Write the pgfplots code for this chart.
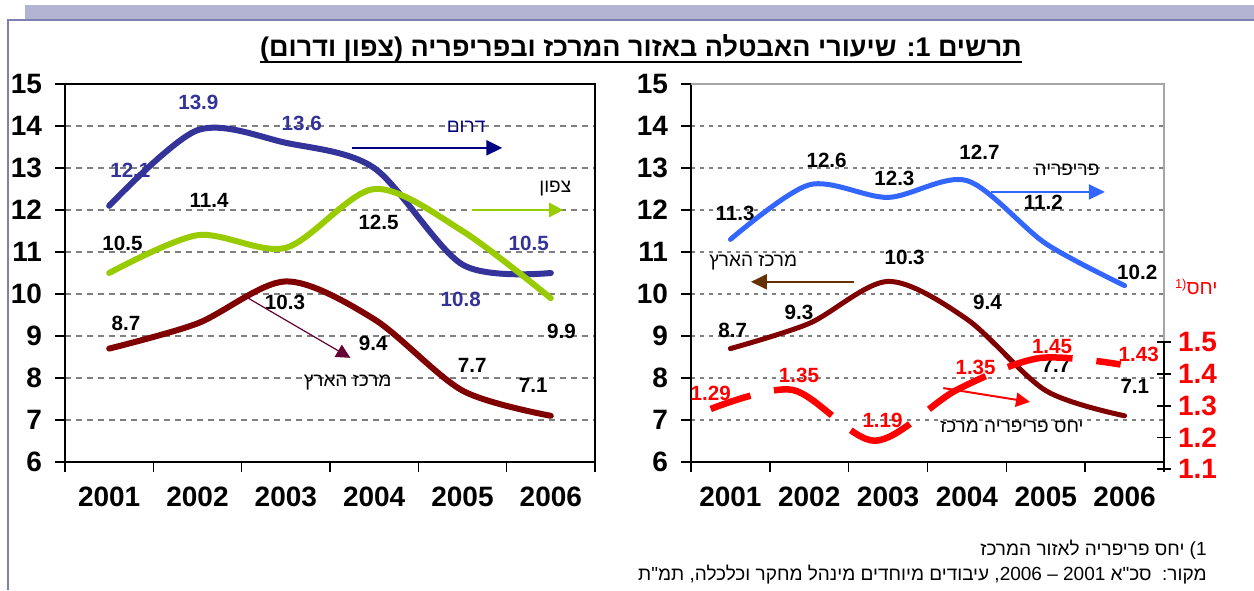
\documentclass[border=0pt]{standalone}
\usepackage{fontspec}
\setmainfont{Liberation Sans}
\newfontfamily\heb[Script=Hebrew]{Liberation Sans}
\TeXXeTstate=1
\usepackage{pgfplots}
\usepackage{pgfplotstable}
\pgfplotsset{compat=1.18}
\usetikzlibrary{arrows.meta}
\definecolor{south}{HTML}{333399}
\definecolor{north}{HTML}{99CC00}
\definecolor{center}{HTML}{800000}
\definecolor{peri}{HTML}{3366FF}
\definecolor{ratio}{HTML}{FF0000}
\definecolor{navyarr}{HTML}{000080}
\definecolor{purparr}{HTML}{660033}
\definecolor{brownarr}{HTML}{663300}
\definecolor{barcol}{HTML}{B3B3D3}
\definecolor{framecol}{HTML}{7F7FB2}
\definecolor{gridcol}{HTML}{808080}

\pgfplotstableread{
x south north center peri
1 12.1 10.5 8.7 11.3
2 13.9 11.4 9.3 12.6
3 13.6 11.1 10.3 12.3
4 13.0 12.5 9.4 12.7
5 10.7 11.5 7.7 11.2
6 10.5 9.9 7.1 10.2
}\regions
\pgfplotstableread{
x ratio
0.75 1.29
1.79 1.35
2.83 1.19
3.87 1.35
4.91 1.45
5.95 1.43
}\ratiotab

\newcommand{\lbl}{\bfseries\fontsize{10.3}{12}\selectfont}
\newcommand{\hlbl}{\heb\fontsize{9.5}{11}\selectfont}

\pgfplotsset{
  panel/.style={
    scale only axis, height=189pt,
    xmin=0.5, xmax=6.5, ymin=6, ymax=15,
    clip=false,
    /pgf/number format/assume math mode=true,
    xtick={0.5,1.5,...,6.5}, xticklabels={},
    extra x ticks={1,2,3,4,5,6},
    extra x tick labels={2001,2002,2003,2004,2005,2006},
    extra x tick style={major tick length=0pt, grid=none},
    ytick={6,...,15},
    tick align=outside, tick pos=left,
    major tick length=5pt,
    tick style={black, line width=0.8pt},
    ymajorgrids,
    ticklabel style={font=\bfseries\fontsize{14}{16}\selectfont},
    xticklabel style={yshift=-9pt},
    yticklabel style={xshift=-3pt},
  },
}

\begin{document}
\begin{tikzpicture}[x=1pt,y=1pt]
\useasboundingbox (0,0) rectangle (627,295);
\fill[white] (0,0) rectangle (627,295);
\fill[barcol] (12.5,292.5) rectangle (627,285.5);
\draw[framecol, line width=1pt] (4,0) -- (4,285) -- (627,285);

\node[anchor=base, inner sep=0] (T) at (320.5,266.5)
  {\heb\bfseries\fontsize{13.5}{15}\selectfont\beginR תרשים 1: שיעורי האבטלה באזור המרכז ובפריפריה (צפון ודרום)\endR};
\draw[line width=1pt] ([yshift=-2.4pt]T.base west) -- ([yshift=-2.4pt]T.base east);

\node[anchor=base east, inner sep=0] at (603.5,17.5)
  {\heb\fontsize{9.5}{11}\selectfont\beginR 1) יחס פריפריה לאזור המרכז\endR};
\node[anchor=base east, inner sep=0] at (603.5,5)
  {\heb\fontsize{9.5}{11}\selectfont\beginR מקור:\ \ סכ"א 2001 – 2006, עיבודים מיוחדים מינהל מחקר וכלכלה, תמ"ת\endR};

% ---------------- left panel
\begin{axis}[panel, width=265pt, at={(32.5pt,64pt)}, anchor=south west,
  axis line style={black, line width=0.8pt},
  major grid style={gridcol, line width=1pt, dash pattern=on 3pt off 2.5pt}]
\node[text=south] at (2.01,14.57) {\lbl 13.9};
\node[text=south] at (3.18,14.05) {\lbl 13.6};
\node[text=south] at (1.24,12.95) {\lbl 12.1};
\node[text=south] at (5.75,11.21) {\lbl 10.5};
\node[text=south] at (4.98,9.86) {\lbl 10.8};
\node at (2.13,12.24) {\lbl 11.4};
\node at (1.15,11.21) {\lbl 10.5};
\node at (4.05,11.71) {\lbl 12.5};
\node at (2.99,9.81) {\lbl 10.3};
\node at (1.19,9.31) {\lbl 8.7};
\node at (3.99,8.83) {\lbl 9.4};
\node at (6.12,9.12) {\lbl 9.9};
\node at (5.11,8.31) {\lbl 7.7};
\node at (5.80,7.83) {\lbl 7.1};
\addplot[south, line width=3pt, smooth, tension=0.5, line cap=round] table[x=x,y=south] {\regions};
\addplot[north, line width=3pt, smooth, tension=0.5, line cap=round] table[x=x,y=north] {\regions};
\addplot[center, line width=3pt, smooth, tension=0.5, line cap=round] table[x=x,y=center] {\regions};
\node[text=navyarr] at (5.04,13.98) {\hlbl דרום};
\draw[navyarr, line width=1.3pt, -{Triangle[length=8pt,width=7.5pt]}] (3.75,13.48) -- (5.45,13.48);
\node at (6.05,12.52) {\hlbl צפון};
\draw[north, line width=1.3pt, -{Triangle[length=7pt,width=7pt]}] (5.11,12.0) -- (6.14,12.0);
\node at (3.70,7.90) {\hlbl\beginR מרכז הארץ\endR};
\draw[purparr, line width=0.6pt, -{Triangle[length=7pt,width=7pt]}] (2.55,9.93) -- (3.73,8.48);
\end{axis}

% ---------------- right panel
\begin{axis}[panel, width=236.5pt, at={(345.5pt,64pt)}, anchor=south west,
  axis lines*=left,
  axis line style={black, line width=0.8pt},
  major grid style={gridcol, line width=0.7pt, dash pattern=on 2pt off 2.5pt}]
\draw[gray!70, line width=1.2pt] (rel axis cs:0,1) -- (rel axis cs:1,1) -- (rel axis cs:1,0);
\node at (2.22,13.19) {\lbl 12.6};
\node at (3.08,12.76) {\lbl 12.3};
\node at (4.16,13.38) {\lbl 12.7};
\node at (1.06,11.93) {\lbl 11.3};
\node at (4.97,12.19) {\lbl 11.2};
\node at (6.16,10.52) {\lbl 10.2};
\node at (3.21,10.88) {\lbl 10.3};
\node at (1.87,9.57) {\lbl 9.3};
\node at (4.26,9.81) {\lbl 9.4};
\node at (1.03,9.14) {\lbl 8.7};
\node at (5.13,8.31) {\lbl 7.7};
\node at (6.13,7.79) {\lbl 7.1};
\node[text=ratio] at (0.75,7.64) {\lbl 1.29};
\node[text=ratio] at (1.87,8.07) {\lbl 1.35};
\node[text=ratio] at (2.93,7.00) {\lbl 1.19};
\node[text=ratio] at (4.11,8.26) {\lbl 1.35};
\node[text=ratio] at (5.08,8.74) {\lbl 1.45};
\node[text=ratio] at (6.18,8.55) {\lbl 1.43};
\addplot[peri, line width=2.5pt, smooth, tension=0.5, line cap=round] table[x=x,y=peri] {\regions};
\addplot[center, line width=2.5pt, smooth, tension=0.5, line cap=round] table[x=x,y=center] {\regions};
\node at (5.27,12.95) {\hlbl פריפריה};
\draw[peri, line width=1pt, -{Triangle[length=8pt,width=7.5pt]}] (4.31,12.43) -- (5.75,12.43);
\node at (1.29,10.76) {\hlbl\beginR מרכז הארץ\endR};
\draw[brownarr, line width=1pt, -{Triangle[length=8pt,width=7.5pt]}] (2.57,10.29) -- (1.26,10.29);
\node at (4.57,6.83) {\hlbl\beginR יחס פריפריה מרכז\endR};
\draw[ratio, line width=1pt, -{Triangle[length=7pt,width=7pt]}] (3.70,7.76) -- (4.80,7.43);
\node[text=ratio, inner sep=0] at (6.91,10.17) {\heb\fontsize{10}{12}\selectfont\raisebox{0.6ex}{\fontsize{6.5}{7}\selectfont(1}יחס};
\end{axis}

% ---------------- ratio (secondary) axis
\begin{axis}[scale only axis, width=236.5pt, height=63.5pt,
  at={(345.5pt,60.35pt)}, anchor=south west,
  xmin=0.5, xmax=6.5, ymin=1.1, ymax=1.5,
  axis x line=none, axis y line*=right,
  axis line style={black, line width=0.8pt},
  ytick={1.1,1.2,1.3,1.4,1.5},
  tick align=center, major tick length=7pt,
  tick style={black, line width=0.8pt},
  clip=false,
  /pgf/number format/assume math mode=true,
  yticklabel style={text=ratio, font=\bfseries\fontsize{14}{16}\selectfont,
    /pgf/number format/.cd, fixed, fixed zerofill, precision=1}]
\addplot[ratio, line width=3.25pt, smooth, tension=0.5, dash pattern=on 33pt off 12pt, dash phase=12pt] table[x=x,y=ratio] {\ratiotab};
\end{axis}
\end{tikzpicture}
\end{document}
